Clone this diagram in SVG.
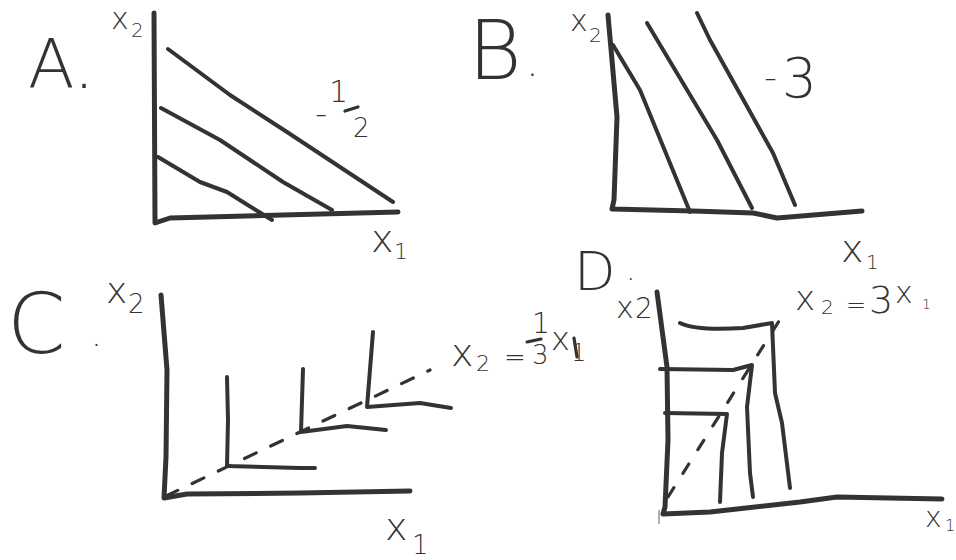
<svg xmlns="http://www.w3.org/2000/svg" width="956" height="560" viewBox="0 0 956 560">
<style>
.s{fill:none;stroke:#333;stroke-width:4;stroke-linecap:round;stroke-linejoin:round}
.ax{stroke-width:5}
.d{stroke-width:3.2}
.t{fill:#333;font-family:"DejaVu Sans","Open Sans",sans-serif;font-weight:200}
</style>
<rect width="956" height="560" fill="#fff"/>
<g id="panelA">
  <text class="t" x="28" y="88" font-size="68">A.</text>
  <text class="t" x="111" y="29" font-size="30">x<tspan font-size="20" x="131" y="37">2</tspan></text>
  <path class="s ax" d="M154,13 L155,223 L170,218 L398,212"/>
  <path class="s" d="M168,49 L230,95 L287,132 L393,202"/>
  <path class="s" d="M161,108 L220,140 L283,182 L332,210"/>
  <path class="s" d="M158,157 L200,182 L227,192 L272,220"/>
  <text class="t" font-size="30"><tspan x="315" y="125" font-size="34">-</tspan><tspan x="329" y="102">1</tspan><tspan x="353" y="137" font-size="26">2</tspan></text>
  <path class="s d" d="M345,111 L358,107"/>
  <text class="t" x="371" y="252" font-size="38">x<tspan font-size="22" x="394" y="259">1</tspan></text>
</g>
<g id="panelB">
  <text class="t" x="468" y="79" font-size="82">B<tspan font-size="40" x="526" y="76">.</tspan></text>
  <text class="t" x="570" y="31" font-size="30">x<tspan font-size="20" x="589" y="42">2</tspan></text>
  <path class="s ax" d="M608,15 L617,117 L614,200 L612,209 L693,211 L753,213 L777,218 L862,211"/>
  <path class="s" d="M613,45 L640,90 L690,212"/>
  <path class="s" d="M647,23 L717,140 L752,208"/>
  <path class="s" d="M697,13 L710,40 L773,153 L795,205"/>
  <text class="t" font-size="55"><tspan x="764" y="89" font-size="36">-</tspan><tspan x="782" y="97">3</tspan></text>
  <text class="t" x="841" y="262" font-size="38">x<tspan font-size="20" x="866" y="269">1</tspan></text>
</g>
<g id="panelC">
  <text class="t" x="7" y="353" font-size="84">C<tspan font-size="34" x="91" y="346">.</tspan></text>
  <text class="t" x="106" y="303" font-size="36">x<tspan font-size="26" x="128" y="313">2</tspan></text>
  <path class="s ax" d="M161,295 L167,370 L166,457 L164,498 L187,494 L300,493 L410,491"/>
  <path class="s d" stroke-dasharray="13 16" d="M166,496 L430,370"/>
  <path class="s" d="M227,377 L228,420 L227,466 L300,468 L315,468"/>
  <path class="s" d="M303,369 L301,432 L347,426 L386,430"/>
  <path class="s" d="M373,332 L367,407 L420,403 L451,408"/>
  <text class="t" font-size="38"><tspan x="451" y="366">x</tspan><tspan x="476" y="371" font-size="22">2</tspan><tspan x="504" y="366" font-size="26">=</tspan><tspan x="532" y="333" font-size="28">1</tspan><tspan x="532" y="364" font-size="26">3</tspan><tspan x="551" y="350" font-size="32">x</tspan><tspan x="571" y="361" font-size="24">1</tspan></text>
  <path class="s d" d="M527,342 L541,339"/>
  <text class="t" x="385" y="540" font-size="38">x<tspan font-size="26" x="412" y="554">1</tspan></text>
</g>
<g id="panelD">
  <text class="t" x="574" y="290" font-size="54">D<tspan font-size="30" x="626" y="280">.</tspan></text>
  <text class="t" x="616" y="318" font-size="30">x<tspan font-size="28" x="635" y="318">2</tspan></text>
  <path class="s d" d="M574,338 L577,357"/>
  <path class="s ax" d="M657,292 L667,367 L668,440 L665,507 L663,514 L710,512 L800,502 L837,497 L942,499"/>
  <path fill="none" stroke="#999" stroke-width="1.5" d="M659,510 L659,524"/>
  <path class="s d" stroke-dasharray="11 17" d="M668,497 L786,310"/>
  <path class="s" d="M680,323 Q697,331 743,328 L772,323 L775,393 L782,423 L790,488"/>
  <path class="s" d="M660,369 L733,370 L752,365 L747,407 L750,473 L753,497"/>
  <path class="s" d="M665,413 L727,414 L722,453 L720,502"/>
  <text class="t" font-size="34"><tspan x="795" y="310">x</tspan><tspan x="821" y="314" font-size="20">2</tspan><tspan x="846" y="313" font-size="24">=</tspan><tspan x="869" y="313" font-size="38">3</tspan><tspan x="895" y="303" font-size="30">x</tspan><tspan x="922" y="309" font-size="14">1</tspan></text>
  <text class="t" x="925" y="527" font-size="28">x<tspan font-size="16" x="945" y="531">1</tspan></text>
</g>
</svg>
